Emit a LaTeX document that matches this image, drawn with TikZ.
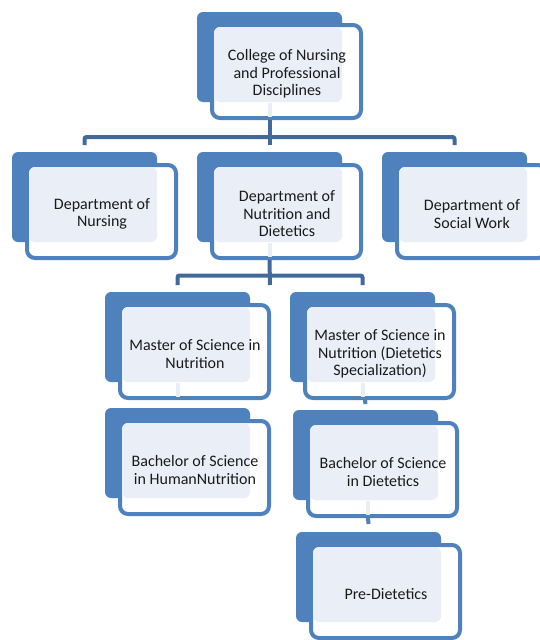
\documentclass[tikz,border=0pt]{standalone}
\usepackage{fontspec}
\setmainfont{Carlito}
\usetikzlibrary{calc}
\definecolor{boxblue}{HTML}{4F81BD}
\definecolor{linkblue}{HTML}{41699B}
\definecolor{lightfill}{HTML}{EAEFF7}
\definecolor{inktext}{HTML}{1A1A1A}
\tikzset{
  backbox/.style={fill=boxblue, rounded corners=6pt},
  frontbox/.style={draw=boxblue, line width=4pt, fill=white, rounded corners=8pt},
  lightbox/.style={fill=lightfill, rounded corners=6pt},
  boxtext/.style={align=center, text=inktext, inner sep=0pt, font=\fontsize{16}{17.5}\selectfont},
  link/.style={draw=linkblue, line width=4pt, rounded corners=2pt},
  stub/.style={draw=boxblue, line width=4pt},
  lightlink/.style={draw=lightfill, line width=4pt},
}
\newcommand\orgbox[4]{%
  \fill[backbox] (#2,#3) rectangle ++(145,90);
  \draw[frontbox] (#2+15,#3+13) rectangle ++(149,93);
  \fill[lightbox] (#2+17,#3+15) rectangle (#2+145,#3+90);
  \node[boxtext] (#1) at (#2+90,#3+62) {#4};
  \coordinate (#1-top) at (#2+72.5,#3);
  \coordinate (#1-bot) at (#2+72.5,#3+108);
  \coordinate (#1-lb) at (#2+72.5,#3+91);
}
\begin{document}
\begin{tikzpicture}[x=1pt,y=-1pt]
\useasboundingbox (0,0) rectangle (540,640);
\orgbox{college}{197}{12}{College of Nursing\\and Professional\\Disciplines}
\orgbox{nursing}{12}{152}{Department of\\Nursing}
\orgbox{nutrition}{197}{152}{Department of\\Nutrition and\\Dietetics}
\orgbox{social}{382}{152}{Department of\\Social Work}
\orgbox{msnutr}{105}{292}{Master of Science in\\Nutrition}
\orgbox{msdiet}{290}{292}{Master of Science in\\Nutrition (Dietetics\\Specialization)}
\orgbox{bshn}{105}{408}{Bachelor of Science\\in HumanNutrition}
\orgbox{bsdiet}{293}{410}{Bachelor of Science\\in Dietetics}
\orgbox{pre}{296}{532}{Pre-Dietetics}
% level 1 -> 2
\draw[lightlink] (college-lb) -- ++(0,14);
\draw[link] (college-bot) -- ($(nutrition-top)+(0,-7)$);
\draw[link] ($(nursing-top)+(0,-7)$) |- ($(college-bot)+(0,17)$) -| ($(social-top)+(0,-7)$);
% level 2 -> 3
\draw[lightlink] (nutrition-lb) -- ++(0,14);
\draw[link] (nutrition-bot) -- ($(msnutr-top)!0.5!(msdiet-top)+(0,-7)$);
\draw[link] ($(msnutr-top)+(0,-7)$) |- ($(nutrition-bot)+(0,15.5)$) -| ($(msdiet-top)+(0,-7)$);
% level 3 -> 4
\draw[lightlink] (msnutr-lb) -- ++(0,14);
\draw[lightlink] (msdiet-lb) -- ++(0,14);
\draw[stub] ($(msdiet-bot)+(2.5,0)$) -- ($(bsdiet-top)+(0,-6)$);
% level 4 -> 5
\draw[lightlink] ($(bsdiet-lb)+(2,0)$) -- ++(0,14);
\draw[stub] ($(bsdiet-bot)+(2.5,0)$) -- ($(pre-top)+(0,-8)$);
\end{tikzpicture}
\end{document}
